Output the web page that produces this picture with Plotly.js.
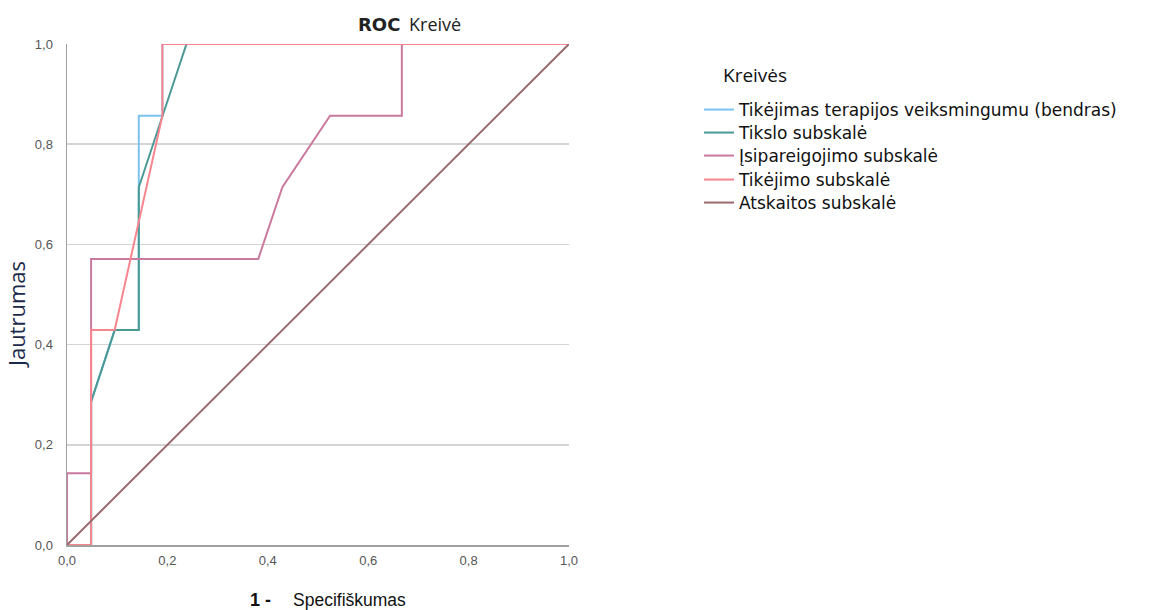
<!DOCTYPE html>
<html>
<head>
<meta charset="utf-8">
<script src="https://cdn.plot.ly/plotly-3.0.1.min.js"></script>
<style>html,body{margin:0;padding:0;background:#fff;}#chart{width:1153px;height:610px;}</style>
</head>
<body>
<div id="chart"></div>
<script>
// Series names
var seriesNames = [
  "Tikėjimas terapijos veiksmingumu (bendras)",
  "Tikslo subskalė",
  "Įsipareigojimo subskalė",
  "Tikėjimo subskalė",
  "Atskaitos subskalė"
];
// 1 - Specifiškumas (x) and Jautrumas (y) for each curve
var bendrasX = [0, 0.048, 0.048, 0.095, 0.143, 0.143, 0.190, 0.190, 1];
var bendrasY = [0, 0, 0.286, 0.429, 0.429, 0.857, 0.857, 1, 1];
var tiksloX = [0, 0.048, 0.048, 0.095, 0.143, 0.143, 0.238, 1];
var tiksloY = [0, 0, 0.286, 0.429, 0.429, 0.714, 1, 1];
var isipX = [0, 0, 0.048, 0.048, 0.381, 0.429, 0.524, 0.667, 0.667, 1];
var isipY = [0, 0.143, 0.143, 0.571, 0.571, 0.714, 0.857, 0.857, 1, 1];
var tikejimoX = [0, 0.048, 0.048, 0.095, 0.190, 0.190, 1];
var tikejimoY = [0, 0, 0.429, 0.429, 0.857, 1, 1];
var atskX = [0, 1];
var atskY = [0, 1];
var xTicks = [0, 0.2, 0.4, 0.6, 0.8, 1.0];
var yTicks = [0, 0.2, 0.4, 0.6, 0.8, 1.0];

var colors = ["#7cc4f0", "#4a9995", "#c97a9e", "#f6858e", "#9a6a6e"];
var xs = [bendrasX, tiksloX, isipX, tikejimoX, atskX];
var ys = [bendrasY, tiksloY, isipY, tikejimoY, atskY];
// legend row positions (pixels from top) - layout only
var legendRowPx = [110, 133, 156, 180, 203];

var traces = [];
for (var i = 0; i < 5; i++) {
  traces.push({
    x: xs[i], y: ys[i], type: "scatter", mode: "lines",
    name: seriesNames[i],
    legend: i === 0 ? "legend" : "legend" + (i + 1),
    line: {color: colors[i], width: 2},
    hoverinfo: "skip"
  });
}

var layout = {
  width: 1153, height: 610,
  margin: {l: 67, r: 584, t: 44, b: 65, pad: 0, autoexpand: false},
  paper_bgcolor: "#fff", plot_bgcolor: "#fff",
  separators: ", ",
  showlegend: true,
  xaxis: {
    range: [0, 1], tickvals: xTicks, tickformat: ".1f",
    showgrid: false, zeroline: false, showline: true, linecolor: "#a0a0a0", linewidth: 1.5,
    ticks: "", ticklabelstandoff: 3,
    tickfont: {family: "Liberation Sans, Arial", size: 13, color: "#555"},
    fixedrange: true
  },
  yaxis: {
    range: [0, 1], tickvals: yTicks, tickformat: ".1f",
    showgrid: true, gridcolor: "#d4d4d4", gridwidth: 1.5, zeroline: false,
    showline: true, linecolor: "#a0a0a0", linewidth: 1.5,
    ticks: "", ticklabelstandoff: 10,
    tickfont: {family: "Liberation Sans, Arial", size: 13, color: "#555"},
    fixedrange: true
  },
  annotations: [
    {text: "<b>ROC</b>", xref: "paper", yref: "paper", x: (356-67)/502, y: (545-24)/501,
     xanchor: "left", yanchor: "middle", showarrow: false,
     font: {family: "DejaVu Sans, Verdana", size: 18, color: "#222"}},
    {text: "Kreivė", xref: "paper", yref: "paper", x: (407-67)/502, y: (545-24)/501,
     xanchor: "left", yanchor: "middle", showarrow: false,
     font: {family: "'Open Sans', sans-serif", size: 18, color: "#222"}},
    {text: "Kreivės", xref: "paper", yref: "paper", x: (721-67)/502, y: (545-75)/501,
     xanchor: "left", yanchor: "middle", showarrow: false,
     font: {family: "'Open Sans', sans-serif", size: 19, color: "#111"}},
    {text: "<b>1 -</b>", xref: "paper", yref: "paper", x: (248-67)/502, y: (545-600)/501,
     xanchor: "left", yanchor: "middle", showarrow: false,
     font: {family: "Liberation Sans, Arial", size: 18, color: "#111"}},
    {text: "Specifiškumas", xref: "paper", yref: "paper", x: (291-67)/502, y: (545-600)/501,
     xanchor: "left", yanchor: "middle", showarrow: false,
     font: {family: "'Liberation Sans Narrow', 'Liberation Sans', Arial", size: 17.5, color: "#111"}},
    {text: "Jautrumas", xref: "paper", yref: "paper", x: (16-67)/502, y: (545-315)/501,
     xanchor: "center", yanchor: "middle", showarrow: false, textangle: -90,
     font: {family: "'Open Sans', sans-serif", size: 22, color: "#1c2a4a"}}
  ]
};

for (var j = 0; j < 5; j++) {
  var key = j === 0 ? "legend" : "legend" + (j + 1);
  layout[key] = {
    x: (699 - 67) / 502, y: (545 - legendRowPx[j]) / 501,
    xanchor: "left", yanchor: "middle",
    font: {family: "'DejaVu Sans', sans-serif", size: 17, color: "#111"},
    itemwidth: 30, bgcolor: "rgba(0,0,0,0)", borderwidth: 0
  };
}

Plotly.newPlot("chart", traces, layout, {displayModeBar: false, staticPlot: true});
</script>
</body>
</html>
